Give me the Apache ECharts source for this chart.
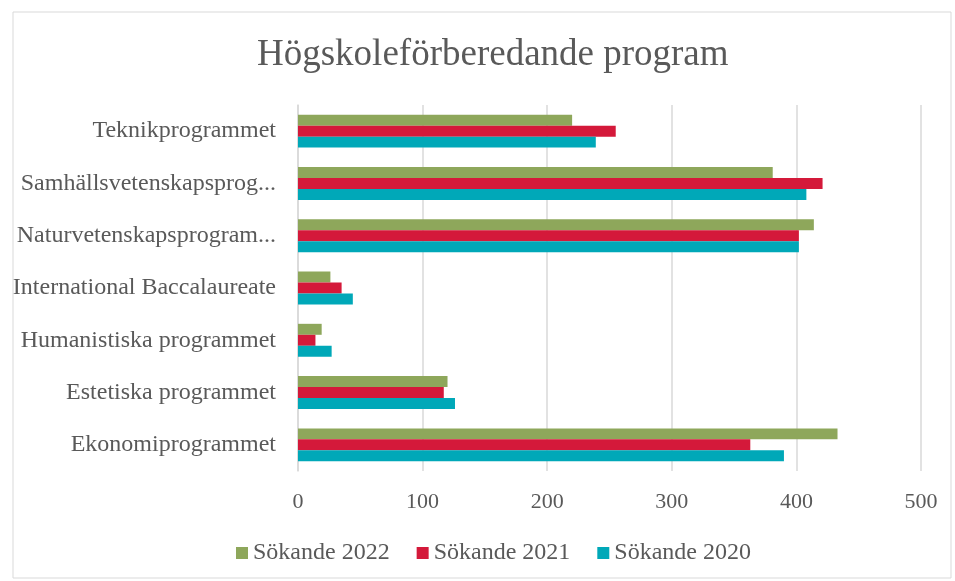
<!DOCTYPE html>
<html>
<head>
<meta charset="utf-8">
<script src="https://cdn.jsdelivr.net/npm/echarts@6/dist/echarts.min.js"></script>
<style>
  html, body { margin: 0; padding: 0; background: #fff; }
  #chart { width: 955px; height: 581px; }
</style>
</head>
<body>
<div id="chart"></div>
<script>
// etiketterna som de står i originalet (förkortade där de inte fick plats)
const categories = [
  'Ekonomiprogrammet',
  'Estetiska programmet',
  'Humanistiska programmet',
  'International Baccalaureate',
  'Naturvetenskapsprogram...',
  'Samhällsvetenskapsprog...',
  'Teknikprogrammet'
]
const sokande2022 = [433, 120, 19, 26, 414, 381, 220]
const sokande2021 = [363, 117, 14, 35, 402, 421, 255]
const sokande2020 = [390, 126, 27, 44, 402, 408, 239]
const xTicks = [0, 100, 200, 300, 400, 500]

const font = '"Liberation Serif", "Times New Roman", serif'
const textColor = '#595959'

const chart = echarts.init(document.getElementById('chart'))

// första serien hamnar överst i varje grupp
const bar = (name, data, color) => ({
  name,
  type: 'bar',
  data,
  barGap: 0,
  barCategoryGap: '37%',
  itemStyle: { color },
  emphasis: { disabled: true }
})

chart.setOption({
  animation: false,
  textStyle: { fontFamily: font },
  graphic: [{
    type: 'rect',
    shape: { x: 13, y: 12, width: 938, height: 566 },
    style: { fill: 'none', stroke: '#d9d9d9', lineWidth: 1 }
  }],
  title: {
    text: 'Högskoleförberedande program',
    left: 252,
    top: 32,
    textStyle: { fontFamily: font, fontSize: 37, fontWeight: 'normal', color: textColor }
  },
  legend: {
    bottom: 11,
    left: 231,
    itemWidth: 12,
    itemHeight: 12,
    itemGap: 27,
    icon: 'rect',
    textStyle: { fontFamily: font, fontSize: 24, color: textColor }
  },
  grid: { left: 298, right: 34, top: 105, bottom: 110 },
  xAxis: {
    type: 'value',
    min: xTicks[0],
    max: xTicks[xTicks.length - 1],
    interval: 100,
    axisLine: { show: false },
    axisTick: { show: false },
    axisLabel: { fontFamily: font, fontSize: 22, color: textColor, margin: 20 },
    splitLine: { lineStyle: { color: '#d9d9d9', width: 1.5 } }
  },
  yAxis: {
    type: 'category',
    data: categories,
    axisLine: { lineStyle: { color: '#d9d9d9', width: 1.5 } },
    axisTick: { show: false },
    axisLabel: { fontFamily: font, fontSize: 24, color: textColor, margin: 22 }
  },
  series: [
    bar('Sökande 2022', sokande2022, '#8ea75b'),
    bar('Sökande 2021', sokande2021, '#d4193a'),
    bar('Sökande 2020', sokande2020, '#00a8b8')
  ]
})
</script>
</body>
</html>
